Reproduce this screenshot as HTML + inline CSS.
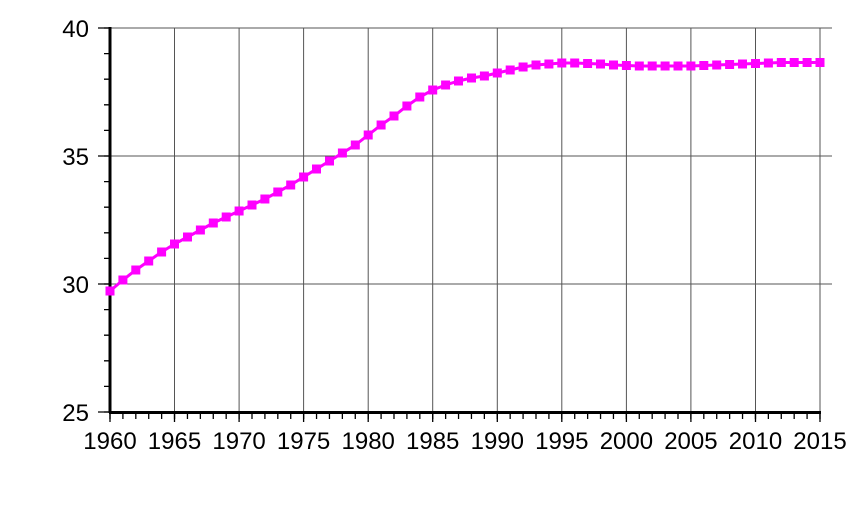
<!DOCTYPE html>
<html><head><meta charset="utf-8"><style>body{margin:0;background:#fff}svg{display:block}text{font-family:"Liberation Sans",sans-serif;font-size:24px;fill:#000}</style></head><body>
<svg width="854" height="512" xmlns="http://www.w3.org/2000/svg">
<defs><marker id="sq" markerUnits="userSpaceOnUse" markerWidth="10" markerHeight="10" refX="5" refY="5"><rect x="0.5" y="0.5" width="9" height="9" fill="#f0f"/></marker></defs>
<rect width="854" height="512" fill="#fff"/>
<path d="M174.5 28V412M239.1 28V412M303.6 28V412M368.2 28V412M432.7 28V412M497.3 28V412M561.8 28V412M626.4 28V412M690.9 28V412M755.5 28V412M820 28V412M110 28H832M110 156H832M110 284H832" stroke="#555" stroke-width="1" fill="none"/>
<line x1="109.35" y1="415.5" x2="821" y2="415.5" stroke="#000" stroke-width="7" stroke-dasharray="1.3 11.609"/>
<path d="M110 412V422M174.5 412V422M239.1 412V422M303.6 412V422M368.2 412V422M432.7 412V422M497.3 412V422M561.8 412V422M626.4 412V422M690.9 412V422M755.5 412V422M820 412V422" stroke="#000" stroke-width="1.3"/>
<line x1="107" y1="27.35" x2="107" y2="413" stroke="#000" stroke-width="6" stroke-dasharray="1.3 24.3"/>
<path d="M98 28H110M98 156H110M98 284H110M98 412H110" stroke="#000" stroke-width="1.3"/>
<line x1="110" y1="27" x2="110" y2="413" stroke="#000" stroke-width="3"/>
<line x1="109" y1="412.5" x2="821" y2="412.5" stroke="#000" stroke-width="3"/>
<g text-anchor="end">
<text x="89" y="37">40</text><text x="89" y="165">35</text><text x="89" y="293">30</text><text x="89" y="421">25</text>
</g>
<g text-anchor="middle">
<text x="110" y="449">1960</text><text x="174.5" y="449">1965</text><text x="239.1" y="449">1970</text><text x="303.6" y="449">1975</text><text x="368.2" y="449">1980</text><text x="432.7" y="449">1985</text><text x="497.3" y="449">1990</text><text x="561.8" y="449">1995</text><text x="626.4" y="449">2000</text><text x="690.9" y="449">2005</text><text x="755.5" y="449">2010</text><text x="820" y="449">2015</text>
</g>
<polyline fill="none" stroke="#f0f" stroke-width="3" marker-start="url(#sq)" marker-mid="url(#sq)" marker-end="url(#sq)" points="110,291 122.9,280 135.8,270 148.7,261 161.6,252 174.5,244 187.5,237 200.4,230 213.3,223 226.2,217 239.1,211 252,205 264.9,199 277.8,192 290.7,185 303.6,177 316.5,169 329.5,161 342.4,153 355.3,145 368.2,135 381.1,125 394,116 406.9,106 419.8,97 432.7,90 445.6,85 458.5,81 471.5,78 484.4,76 497.3,73 510.2,70 523.1,67 536,65 548.9,64 561.8,63 574.7,63 587.6,63.5 600.5,64 613.5,65 626.4,65.5 639.3,66 652.2,66 665.1,66 678,66 690.9,66 703.8,65.5 716.7,65 729.6,64.5 742.5,64 755.5,63.5 768.4,63 781.3,62.5 794.2,62.5 807.1,62.5 820,62.5"/>
</svg>
</body></html>
